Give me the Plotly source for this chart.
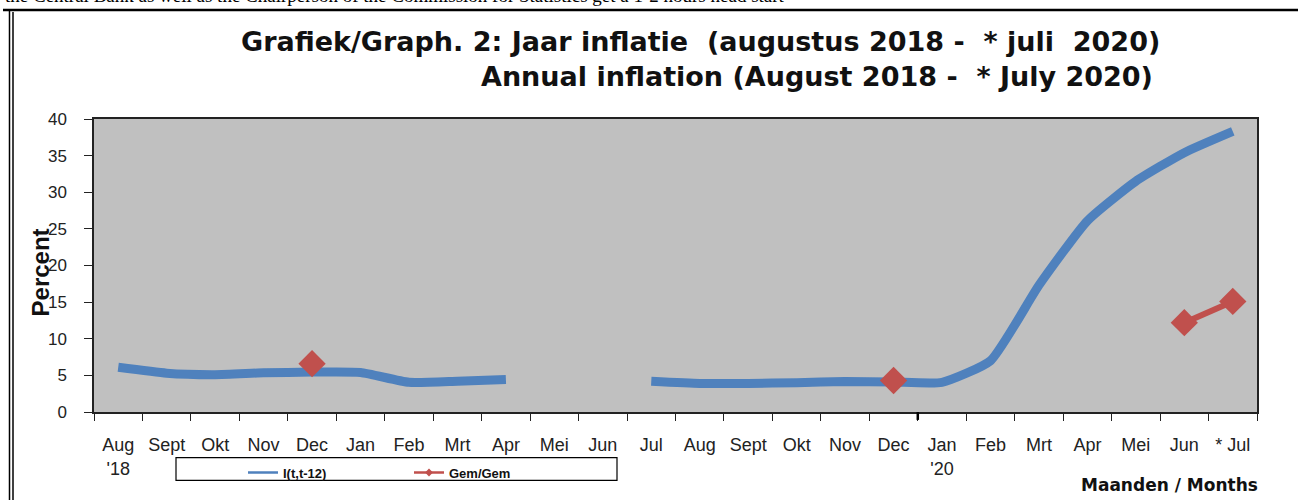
import plotly.graph_objects as go

# ---- data ----
months = ["Aug<br>'18", "Sept", "Okt", "Nov", "Dec", "Jan", "Feb", "Mrt", "Apr", "Mei", "Jun", "Jul",
          "Aug", "Sept", "Okt", "Nov", "Dec", "Jan<br>'20", "Feb", "Mrt", "Apr", "Mei", "Jun", "* Jul"]
inflation_yoy = [6.1, 5.3, 5.1, 5.35, 5.45, 5.4, 4.05, 4.2, 4.45, None, None, 4.2,
                 3.9, 3.9, 4.0, 4.15, 4.1, 4.05, 7.0, 17.3, 26.1, 31.5, 35.4, 38.3]
gem_gem = [None, None, None, None, 6.6, None, None, None, None, None, None, None,
           None, None, None, None, 4.3, None, None, None, None, None, 12.2, 15.1]
y_ticks = [0, 5, 10, 15, 20, 25, 30, 35, 40]

BLUE = "#4F81BD"
RED = "#C0504D"
x_idx = list(range(len(months)))

fig = go.Figure()
fig.add_trace(go.Scatter(x=x_idx, y=inflation_yoy, mode="lines", showlegend=False,
                         line=dict(color=BLUE, width=9, shape="spline", smoothing=0.5),
                         connectgaps=False))
fig.add_trace(go.Scatter(x=x_idx, y=gem_gem, mode="lines+markers", showlegend=False,
                         line=dict(color=RED, width=6),
                         marker=dict(symbol="diamond", size=21, color=RED),
                         connectgaps=False))
# legend entries
fig.add_trace(go.Scatter(x=[None], y=[None], mode="lines", name="<b>I(t,t-12)</b>",
                         line=dict(color=BLUE, width=2.5)))
fig.add_trace(go.Scatter(x=[None], y=[None], mode="lines+markers", name="<b>Gem/Gem</b>",
                         line=dict(color=RED, width=2.5),
                         marker=dict(symbol="diamond", size=6, color=RED)))

L, R, T, B = 94, 1257, 119, 415
W, H = 1298, 500


def px(x):
    return (x - L) / (R - L)


def py(y):
    return (B - y) / (B - T)


fig.update_layout(
    width=W, height=H,
    margin=dict(l=L, r=W - R, t=T, b=H - B),
    paper_bgcolor="white",
    plot_bgcolor="#C0C0C0",
    font=dict(family="Liberation Sans, Arial, sans-serif", color="#111"),
    legend=dict(orientation="h", x=px(243), y=py(461), xanchor="left", yanchor="top",
                bgcolor="rgba(0,0,0,0)", borderwidth=0,
                font=dict(size=13, color="#111"), entrywidth=121, entrywidthmode="pixels",
                tracegroupgap=0),
)

fig.update_xaxes(
    range=[-0.5, 23.5], tickmode="array", tickvals=x_idx, ticktext=months,
    ticks="", showgrid=False, zeroline=False,
    showline=True, linecolor="#222", linewidth=1.5, mirror=True,
    tickfont=dict(size=18, color="#222"), ticklabelstandoff=16,
    minor=dict(tick0=-0.5, dtick=1, ticks="outside", ticklen=7, tickcolor="#222", tickwidth=1.2, showgrid=False),
)
fig.update_yaxes(
    range=[0, 40], tickmode="array", tickvals=y_ticks,
    ticks="outside", ticklen=8, tickcolor="#222", tickwidth=1.2,
    showgrid=False, zeroline=False,
    showline=True, linecolor="#222", linewidth=1.5, mirror=True,
    tickfont=dict(size=17, color="#222"), ticklabelstandoff=14,
)

nb = "\u00a0"
TITLE_FONT = "DejaVu Sans, Verdana, sans-serif"
annotations = [
    dict(text=f"<b>Grafiek/Graph. 2: Jaar inflatie {nb}(augustus 2018 - {nb}* juli {nb}2020)</b>",
         x=px(1162), y=py(41), xanchor="right", yanchor="middle", showarrow=False,
         font=dict(family=TITLE_FONT, size=27, color="#111")),
    dict(text=f"<b>Annual inflation (August 2018 - {nb}* July 2020)</b>",
         x=px(1155), y=py(76), xanchor="right", yanchor="middle", showarrow=False,
         font=dict(family=TITLE_FONT, size=27, color="#111")),
    dict(text="<b>Percent</b>", x=px(40), y=py(274), textangle=-90, xanchor="center", yanchor="middle",
         showarrow=False, font=dict(size=24, color="#111")),
    dict(text="<b>Maanden / Months</b>", x=px(1260), y=py(489), xanchor="right", yanchor="middle",
         showarrow=False, font=dict(family=TITLE_FONT, size=17, color="#111")),
    dict(text="the Central Bank as well as the Chairperson of the Commission for Statistics get a 1-2 hours head start",
         x=px(3), y=py(7), xanchor="left", yanchor="bottom", showarrow=False,
         font=dict(family="Liberation Serif, Times New Roman, serif", size=19, color="#000")),
]
for a in annotations:
    a["xref"] = "paper"
    a["yref"] = "paper"
fig.update_layout(annotations=annotations)

shapes = [
    # outer frame
    dict(type="line", x0=px(3), x1=px(1300), y0=py(9), y1=py(9), line=dict(color="#000", width=2.5)),
    dict(type="line", x0=px(9.5), x1=px(9.5), y0=py(9), y1=py(505), line=dict(color="#000", width=1.5)),
    dict(type="line", x0=px(13), x1=px(13), y0=py(11), y1=py(505), line=dict(color="#000", width=1.5)),
    # legend box
    dict(type="rect", x0=px(176), x1=px(617), y0=py(461), y1=py(484), line=dict(color="#000", width=1.2),
         fillcolor="rgba(0,0,0,0)"),
    # year boundary tick
    dict(type="line", xref="x", yref="paper", x0=16.5, x1=16.5, y0=0, y1=py(423),
         line=dict(color="#000", width=2.5)),
]
for s in shapes:
    s.setdefault("xref", "paper")
    s.setdefault("yref", "paper")
fig.update_layout(shapes=shapes)

fig.write_html("out.html", config={"displayModeBar": False},
               post_script="document.body.style.margin='0px';document.body.style.overflow='hidden';")
